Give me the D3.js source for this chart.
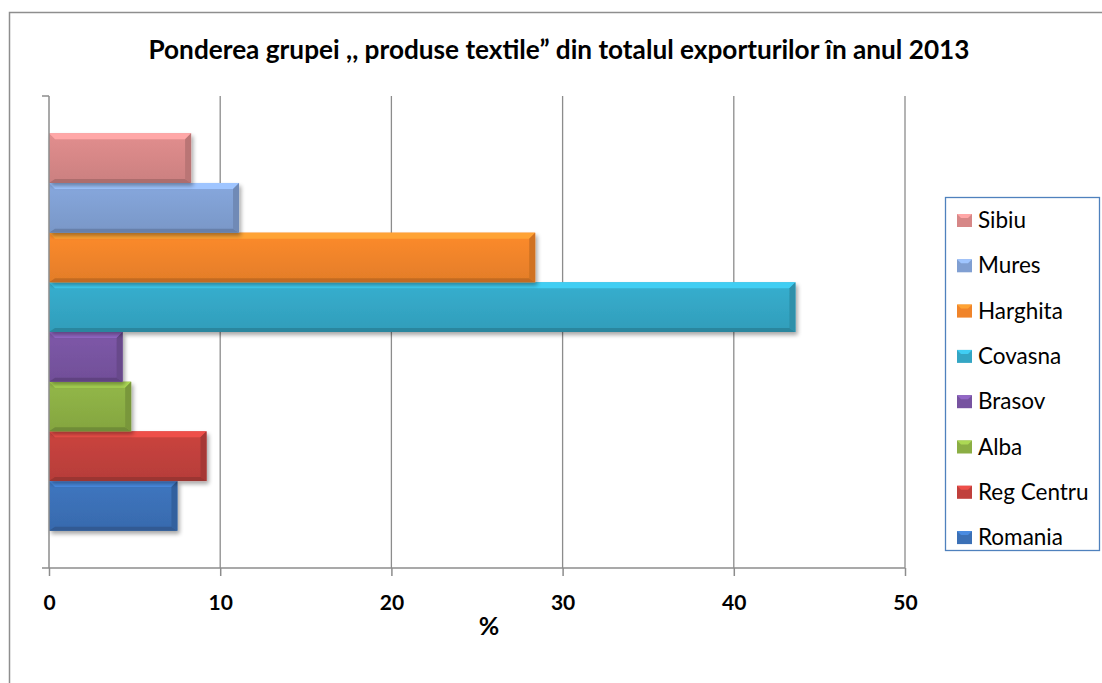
<!DOCTYPE html>
<html>
<head>
    <meta charset="utf-8">
    <style>
        body { margin: 0; background: white; }
        svg { display: block; font-family: Lato, 'Open Sans', sans-serif; }
    </style>
</head>
<body>
<svg width="1102" height="683"></svg>

<script src="https://d3js.org/d3.v7.min.js"></script>
<script>
    // series, bottom to top
    let series = ["Romania", "Reg Centru", "Alba", "Brasov", "Covasna", "Harghita", "Mures", "Sibiu"]
    let values = [7.5, 9.2, 4.8, 4.3, 43.6, 28.4, 11.1, 8.3]
    let colors = ["#3b70b6", "#c0403c", "#8bae44", "#7753a0", "#34a6c4", "#f0842a", "#809fd2", "#d68787"]
    let xTicks = [0, 10, 20, 30, 40, 50]

    let svg = d3.select("svg")

    // outer chart frame (runs off the right and bottom of the picture)
    svg.append("rect")
        .attr("x", 9.5).attr("y", 12.5)
        .attr("width", 1200).attr("height", 800)
        .attr("fill", "none")
        .attr("stroke", "#8e8e8e")
        .attr("stroke-width", 1.5)

    svg.append("text")
        .attr("x", 559).attr("y", 59)
        .attr("text-anchor", "middle")
        .attr("font-weight", "bold")
        .attr("font-size", 26.2)
        .text("Ponderea grupei ,, produse textile\u201d din totalul exporturilor \u00een anul 2013")

    let plotL = 49, plotR = 905, plotT = 96, plotB = 568

    let x = d3.scaleLinear().domain([0, 50]).range([plotL, plotR])

    // one category, 8 series, gap width ~150%
    let band = d3.scaleBand().domain([0]).range([plotB, plotT])
    let barH = band.bandwidth() / (series.length + 1.5)
    let y = d3.scaleBand()
        .domain(series)
        .range([plotB - barH * 0.75, plotT + barH * 0.75])
        .padding(0)

    // gridlines
    svg.append("g")
        .selectAll("line")
        .data(xTicks.slice(1))
        .join("line")
        .attr("x1", d => x(d)).attr("x2", d => x(d))
        .attr("y1", plotT).attr("y2", plotB)
        .attr("stroke", "#8c8c8c")
        .attr("stroke-width", 1.3)

    let defs = svg.append("defs")
    let shadow = defs.append("filter").attr("id", "shadow")
        .attr("x", "-5%").attr("y", "-20%").attr("width", "115%").attr("height", "160%")
    shadow.append("feGaussianBlur").attr("in", "SourceAlpha").attr("stdDeviation", 2)
    shadow.append("feOffset").attr("dx", 1.5).attr("dy", 2.5).attr("result", "b")
    shadow.append("feComponentTransfer").append("feFuncA").attr("type", "linear").attr("slope", 0.35)
    let merge = shadow.append("feMerge")
    merge.append("feMergeNode")
    merge.append("feMergeNode").attr("in", "SourceGraphic")

    series.forEach((s, i) => {
        let c = d3.color(colors[i])
        let g = defs.append("linearGradient").attr("id", "g" + i)
            .attr("x1", 0).attr("y1", 0).attr("x2", 0).attr("y2", 1)
        g.append("stop").attr("offset", "0%").attr("stop-color", c.brighter(0.15))
        g.append("stop").attr("offset", "100%").attr("stop-color", c.darker(0.15))
    })

    let bars = svg.append("g")
        .selectAll("g")
        .data(series.map((s, i) => ({ name: s, value: values[i], i: i })))
        .join("g")
        .attr("filter", "url(#shadow)")

    bars.append("rect")
        .attr("x", x(0))
        .attr("y", d => y(d.name))
        .attr("width", d => x(d.value) - x(0))
        .attr("height", y.bandwidth())
        .attr("fill", d => "url(#g" + d.i + ")")

    let bev = 6
    // top bevel (light)
    bars.append("path")
        .attr("d", d => {
            let x0 = x(0), x1 = x(d.value), y0 = y(d.name)
            return `M${x0},${y0}L${x1},${y0}L${x1 - bev},${y0 + bev}L${x0 + bev},${y0 + bev}Z`
        })
        .attr("fill", d => d3.color(colors[d.i]).brighter(0.6))
    // bottom bevel (dark)
    bars.append("path")
        .attr("d", d => {
            let x0 = x(0), x1 = x(d.value), y1 = y(d.name) + y.bandwidth()
            return `M${x0},${y1}L${x1},${y1}L${x1 - bev},${y1 - 4}L${x0 + bev},${y1 - 4}Z`
        })
        .attr("fill", d => d3.color(colors[d.i]).darker(0.6))
    // right bevel
    bars.append("path")
        .attr("d", d => {
            let x1 = x(d.value), y0 = y(d.name), y1 = y0 + y.bandwidth()
            return `M${x1},${y0}L${x1},${y1}L${x1 - bev},${y1 - 4}L${x1 - bev},${y0 + bev}Z`
        })
        .attr("fill", d => d3.color(colors[d.i]).darker(0.4))

    // axes
    let xAxis = svg.append("g")
        .attr("transform", `translate(0,${plotB})`)
        .call(d3.axisBottom(x).tickValues(xTicks).tickSize(8).tickFormat(d3.format("d")))
    xAxis.select(".domain").remove()
    xAxis.append("line").attr("x1", 42).attr("x2", plotR).attr("stroke", "#8c8c8c").attr("stroke-width", 1.5)
    xAxis.selectAll(".tick line").attr("stroke", "#8c8c8c").attr("stroke-width", 1.5)
    xAxis.selectAll(".tick text")
        .attr("y", 42)
        .attr("dy", 0)
        .attr("font-size", 21)
        .attr("font-weight", "bold")
        .attr("font-family", "Lato, sans-serif")
        .attr("fill", "#000")

    svg.append("line")
        .attr("x1", plotL).attr("x2", plotL)
        .attr("y1", plotT).attr("y2", plotB)
        .attr("stroke", "#8c8c8c").attr("stroke-width", 1.5)
    svg.append("line")
        .attr("x1", 42).attr("x2", plotL)
        .attr("y1", plotT).attr("y2", plotT)
        .attr("stroke", "#8c8c8c").attr("stroke-width", 1.5)

    svg.append("text")
        .attr("x", 489).attr("y", 635)
        .attr("text-anchor", "middle")
        .attr("font-weight", "bold")
        .attr("font-size", 25)
        .text("%")

    // legend
    svg.append("rect")
        .attr("x", 945.5).attr("y", 197.5)
        .attr("width", 154).attr("height", 353)
        .attr("fill", "white")
        .attr("stroke", "#4f81bd")
        .attr("stroke-width", 1.3)

    let leg = svg.append("g")
        .selectAll("g")
        .data(series.slice().reverse())
        .join("g")
        .attr("transform", (d, i) => `translate(957,${220.5 + i * 45.3})`)

    leg.append("rect")
        .attr("x", 0).attr("y", -6.5)
        .attr("width", 15).attr("height", 13)
        .attr("fill", d => colors[series.indexOf(d)])
    leg.append("path")
        .attr("d", "M0,-6.5L15,-6.5L11,-2.5L4,-2.5Z")
        .attr("fill", d => d3.color(colors[series.indexOf(d)]).brighter(0.6))
    leg.append("text")
        .attr("x", 21).attr("y", 7.5)
        .attr("font-size", 22.5)
        .text(d => d)
</script>
</body>
</html>
